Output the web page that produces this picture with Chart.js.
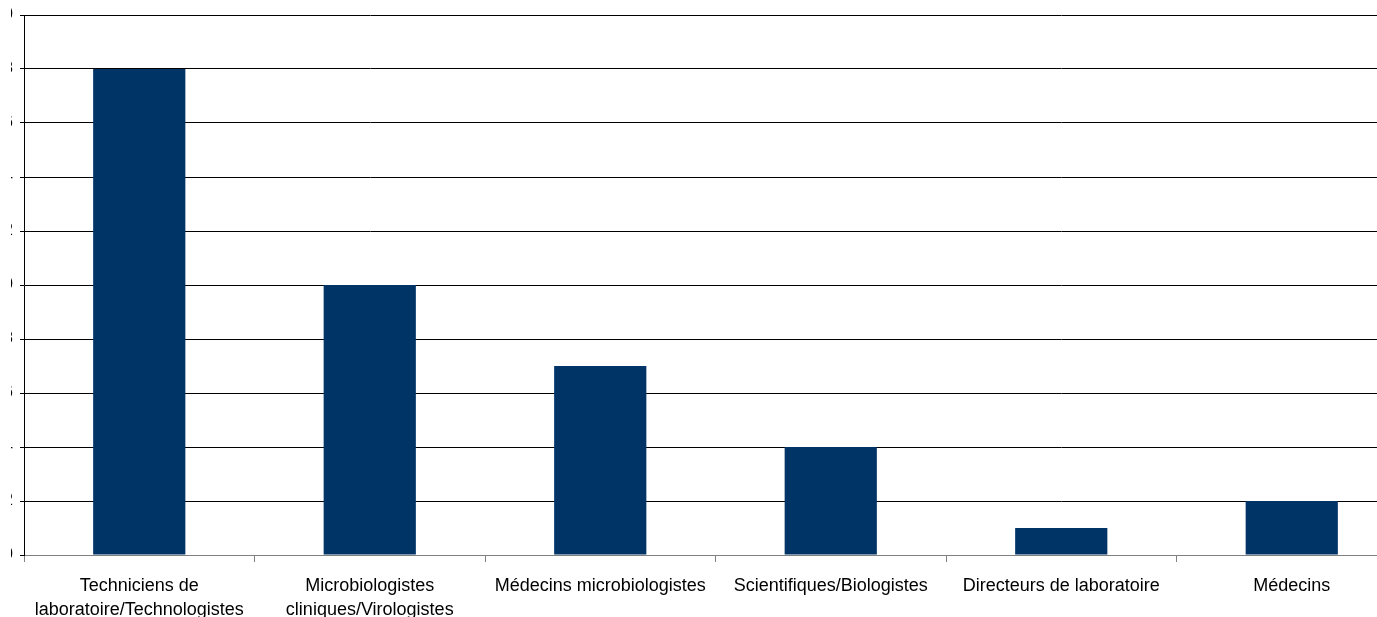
<!DOCTYPE html>
<html lang="fr">
<head>
  <meta charset="UTF-8" />
  <title>Répartition par profession</title>
  <script src="https://cdn.jsdelivr.net/npm/chart.js"></script>
  <style>
    html, body { margin: 0; padding: 0; background: #fff; overflow: hidden; }
    #clip { position: absolute; left: 11px; top: 0; width: 1366px; height: 617px; overflow: hidden; }
    #wrap { position: absolute; left: -11px; top: 0; width: 1407px; height: 617px; }
  </style>
</head>
<body>
  <div id="clip">
    <div id="wrap"><canvas id="chart"></canvas></div>
  </div>
  <script>
    // categories and counts
    const categories = [
      ["Techniciens de", "laboratoire/Technologistes"],
      ["Microbiologistes", "cliniques/Virologistes"],
      "Médecins microbiologistes",
      "Scientifiques/Biologistes",
      "Directeurs de laboratoire",
      "Médecins"
    ];
    const counts = [18, 10, 7, 4, 1, 2];
    const yMin = 0, yMax = 20, yStep = 2;

    new Chart(document.getElementById("chart"), {
      type: 'bar',
      data: {
        labels: categories,
        datasets: [{
          data: counts,
          backgroundColor: '#003366',
          borderWidth: 0,
          categoryPercentage: 1,
          barPercentage: 0.4
        }]
      },
      options: {
        responsive: true,
        maintainAspectRatio: false,
        animation: false,
        layout: { padding: { top: 0, right: 0, left: 0, bottom: 0 } },
        plugins: { legend: { display: false }, tooltip: { enabled: false } },
        scales: {
          x: {
            grid: { drawOnChartArea: false, drawTicks: true, tickLength: 7, color: '#808080' },
            border: { color: '#808080', width: 1 },
            ticks: {
              color: '#000',
              padding: 12,
              maxRotation: 0,
              autoSkip: false,
              font: { family: 'Liberation Sans, Arial, sans-serif', size: 18, lineHeight: 1.333 }
            },
            afterFit: (s) => { s.height = 62; }
          },
          y: {
            min: yMin,
            max: yMax,
            grid: { color: '#000', tickLength: 4, lineWidth: 1 },
            border: { color: '#000', width: 1 },
            ticks: {
              stepSize: yStep,
              color: '#000',
              padding: 7,
              font: { family: 'Liberation Sans, Arial, sans-serif', size: 16, lineHeight: 1 }
            },
            afterFit: (s) => { s.width = 24; }
          }
        }
      }
    });
  </script>
</body>
</html>
